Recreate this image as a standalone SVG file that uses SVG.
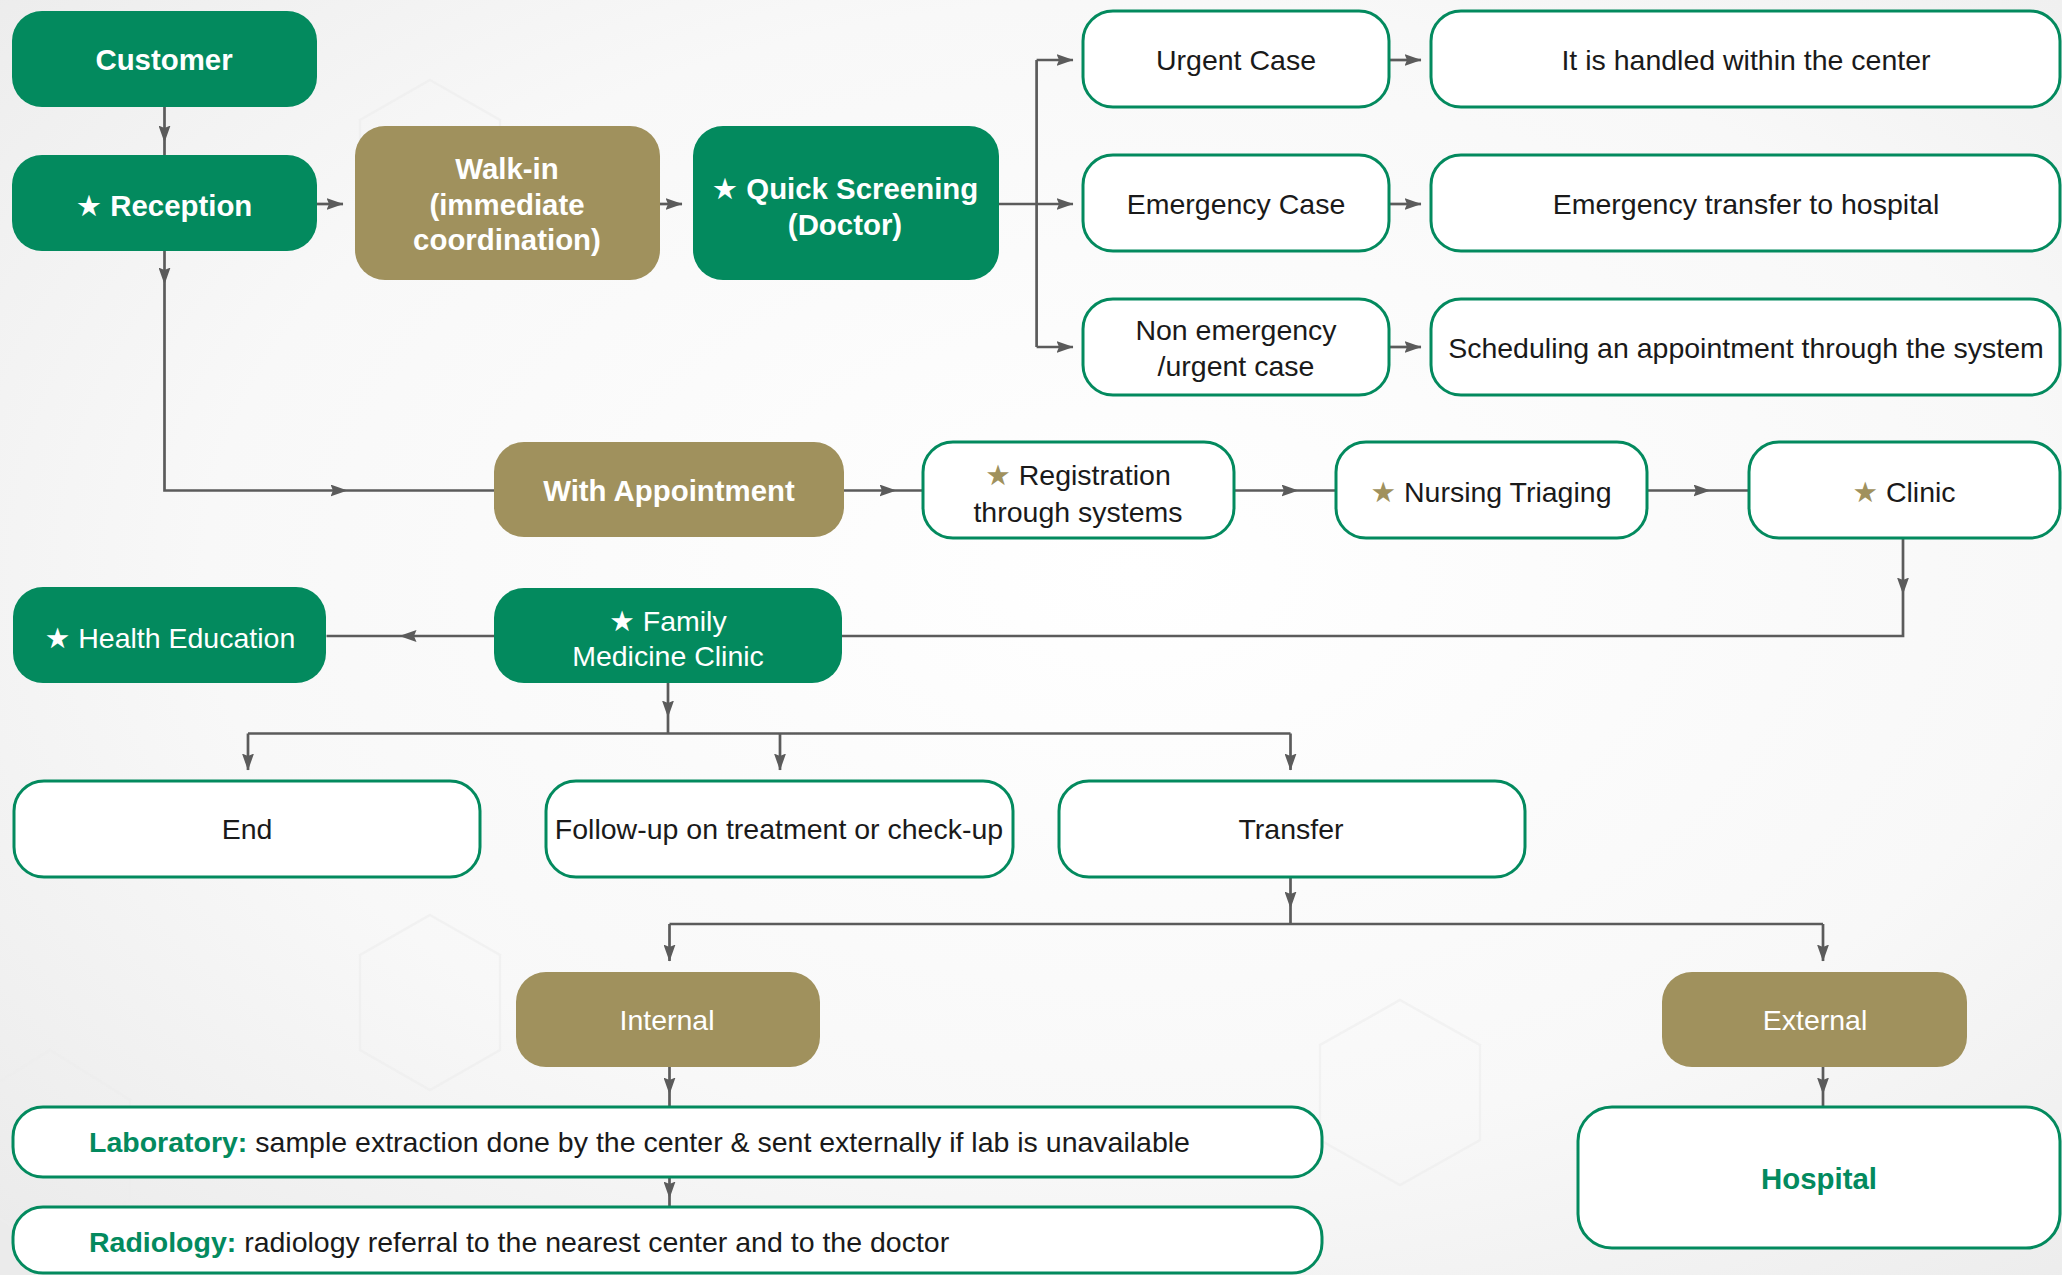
<svg xmlns="http://www.w3.org/2000/svg" width="2062" height="1275" viewBox="0 0 2062 1275">
<defs>
<radialGradient id="bg" cx="0.55" cy="0.45" r="0.75">
<stop offset="0" stop-color="#ffffff"/>
<stop offset="0.6" stop-color="#f8f8f8"/>
<stop offset="1" stop-color="#ebebeb"/>
</radialGradient>
<marker id="ah" viewBox="0 0 17 12" refX="16.5" refY="6" markerWidth="17" markerHeight="12" markerUnits="userSpaceOnUse" orient="auto">
<path d="M0 0 L17 6 L0 12 L2.5 6 Z" fill="#5b5b5b"/>
</marker>
<style>
.g{fill:#038A5E}
.k{fill:#A0915D}
.w{fill:#ffffff;stroke:#038A5E;stroke-width:3}
.tb{font-family:"Liberation Sans","DejaVu Sans",sans-serif;font-weight:bold;font-size:29.4px;fill:#ffffff;text-anchor:middle;dominant-baseline:central}
.tw{font-family:"Liberation Sans","DejaVu Sans",sans-serif;font-size:28.5px;fill:#ffffff;text-anchor:middle;dominant-baseline:central}
.t{font-family:"Liberation Sans","DejaVu Sans",sans-serif;font-size:28.5px;fill:#1a1a1a;text-anchor:middle;dominant-baseline:central}
.tl{font-family:"Liberation Sans","DejaVu Sans",sans-serif;font-size:28.5px;fill:#1a1a1a;dominant-baseline:central}
.bgr{font-weight:bold;fill:#038A5E}
.st{fill:#A0915D}
.c{fill:none;stroke:#5b5b5b;stroke-width:2.7;marker-end:url(#ah)}
.hex{fill:none;stroke:#ececec;stroke-width:2.5}
</style>
</defs>
<rect width="2062" height="1275" fill="url(#bg)"/>
<g opacity="0.6">
<polygon class="hex" points="430,80 500,120 500,200 430,240 360,200 360,120"/>
<polygon class="hex" points="430,915 500,955 500,1050 430,1090 360,1050 360,955"/>
<polygon class="hex" points="50,1050 130,1100 130,1200 50,1250 -30,1200 -30,1100"/>
<polygon class="hex" points="1400,1000 1480,1045 1480,1140 1400,1185 1320,1140 1320,1045"/>
</g>

<g id="connectors">
<path class="c" d="M164.5 155 V142 M164.5 107 V142"/>
<path class="c" d="M317 204 H343"/>
<path class="c" d="M660 204 H682"/>
<path class="c" d="M998.5 204 H1036.6 M1036.6 60 V347 M1036.6 60 H1073"/>
<path class="c" d="M1036.6 204 H1073"/>
<path class="c" d="M1036.6 347 H1073"/>
<path class="c" d="M1389 60 H1421"/>
<path class="c" d="M1389 204 H1421"/>
<path class="c" d="M1389 347 H1421"/>
<path class="c" d="M164.5 251 V284"/>
<path class="c" d="M164.5 284 V490.5 H494 M164.5 490.5 H347"/>
<path class="c" d="M896 490.5 H922 M844 490.5 H896"/>
<path class="c" d="M1298 490.5 H1336 M1234 490.5 H1298"/>
<path class="c" d="M1710 490.5 H1749 M1647 490.5 H1710"/>
<path class="c" d="M1903 594 V636 H842 M1903 538 V594"/>
<path class="c" d="M494 636 H400 H326.5 M494 636 H400"/>
<path class="c" d="M668 717 V733.5 M668 683 V717"/>
<path class="c" d="M248 733.5 H1290.5 M248 733.5 V770"/>
<path class="c" d="M780 733.5 V770"/>
<path class="c" d="M1290.5 733.5 V770"/>
<path class="c" d="M1290.5 908 V924 M1290.5 877 V908"/>
<path class="c" d="M669.5 924 H1823 M669.5 924 V961"/>
<path class="c" d="M1823 924 V961"/>
<path class="c" d="M669.5 1094 V1106 M669.5 1067 V1094"/>
<path class="c" d="M669.5 1198 V1206 M669.5 1177 V1198"/>
<path class="c" d="M1823 1094 V1106 M1823 1067 V1094"/>
</g>

<g id="customer"><rect class="g" x="12" y="11" width="305" height="96" rx="30"/><text class="tb" x="164" y="59">Customer</text></g>
<g id="reception"><rect class="g" x="12" y="155" width="305" height="96" rx="30"/><text class="tb" x="164" y="205">★ Reception</text></g>
<g id="walkin"><rect class="k" x="355" y="126" width="305" height="154" rx="30"/><text class="tb" x="507" y="168">Walk-in</text><text class="tb" x="507" y="204">(immediate</text><text class="tb" x="507" y="239">coordination)</text></g>
<g id="quick"><rect class="g" x="693" y="126" width="306" height="154" rx="30"/><text class="tb" x="845" y="188">★ Quick Screening</text><text class="tb" x="845" y="224">(Doctor)</text></g>

<g id="urgent"><rect class="w" x="1083" y="11" width="306" height="96" rx="30"/><text class="t" x="1236" y="60">Urgent Case</text></g>
<g id="emergency"><rect class="w" x="1083" y="155" width="306" height="96" rx="30"/><text class="t" x="1236" y="204">Emergency Case</text></g>
<g id="nonemergency"><rect class="w" x="1083" y="299" width="306" height="96" rx="30"/><text class="t" x="1236" y="330">Non emergency</text><text class="t" x="1236" y="366">/urgent case</text></g>
<g id="handled"><rect class="w" x="1431" y="11" width="629" height="96" rx="30"/><text class="t" x="1746" y="60">It is handled within the center</text></g>
<g id="transferhospital"><rect class="w" x="1431" y="155" width="629" height="96" rx="30"/><text class="t" x="1746" y="204">Emergency transfer to hospital</text></g>
<g id="scheduling"><rect class="w" x="1431" y="299" width="629" height="96" rx="30"/><text class="t" x="1746" y="348">Scheduling an appointment through the system</text></g>

<g id="withappointment"><rect class="k" x="494" y="442" width="350" height="95" rx="30"/><text class="tb" x="669" y="490">With Appointment</text></g>
<g id="registration"><rect class="w" x="923" y="442" width="311" height="96" rx="30"/><text class="t" x="1078" y="475"><tspan class="st">★</tspan> Registration</text><text class="t" x="1078" y="512">through systems</text></g>
<g id="nursing"><rect class="w" x="1336" y="442" width="311" height="96" rx="30"/><text class="t" x="1491" y="492"><tspan class="st">★</tspan> Nursing Triaging</text></g>
<g id="clinic"><rect class="w" x="1749" y="442" width="311" height="96" rx="30"/><text class="t" x="1904" y="492"><tspan class="st">★</tspan> Clinic</text></g>

<g id="healtheducation"><rect class="g" x="13" y="587" width="313" height="96" rx="30"/><text class="tw" x="170" y="638">★ Health Education</text></g>
<g id="familymedicine"><rect class="g" x="494" y="588" width="348" height="95" rx="30"/><text class="tw" x="668" y="621">★ Family</text><text class="tw" x="668" y="656">Medicine Clinic</text></g>

<g id="end"><rect class="w" x="14" y="781" width="466" height="96" rx="30"/><text class="t" x="247" y="829">End</text></g>
<g id="followup"><rect class="w" x="546" y="781" width="467" height="96" rx="30"/><text class="t" x="779" y="829">Follow-up on treatment or check-up</text></g>
<g id="transfer"><rect class="w" x="1059" y="781" width="466" height="96" rx="30"/><text class="t" x="1291" y="829">Transfer</text></g>

<g id="internal"><rect class="k" x="516" y="972" width="304" height="95" rx="30"/><text class="tw" x="667" y="1020">Internal</text></g>
<g id="external"><rect class="k" x="1662" y="972" width="305" height="95" rx="30"/><text class="tw" x="1815" y="1020">External</text></g>

<g id="laboratory"><rect class="w" x="13" y="1107" width="1309" height="70" rx="30"/><text class="tl" x="89" y="1142"><tspan class="bgr">Laboratory:</tspan> sample extraction done by the center &amp; sent externally if lab is unavailable</text></g>
<g id="radiology"><rect class="w" x="13" y="1207" width="1309" height="66" rx="30"/><text class="tl" x="89" y="1242"><tspan class="bgr">Radiology:</tspan> radiology referral to the nearest center and to the doctor</text></g>
<g id="hospital"><rect class="w" x="1578" y="1107" width="482" height="141" rx="34"/><text class="t bgr" x="1819" y="1178" style="font-size:29.4px">Hospital</text></g>
</svg>
